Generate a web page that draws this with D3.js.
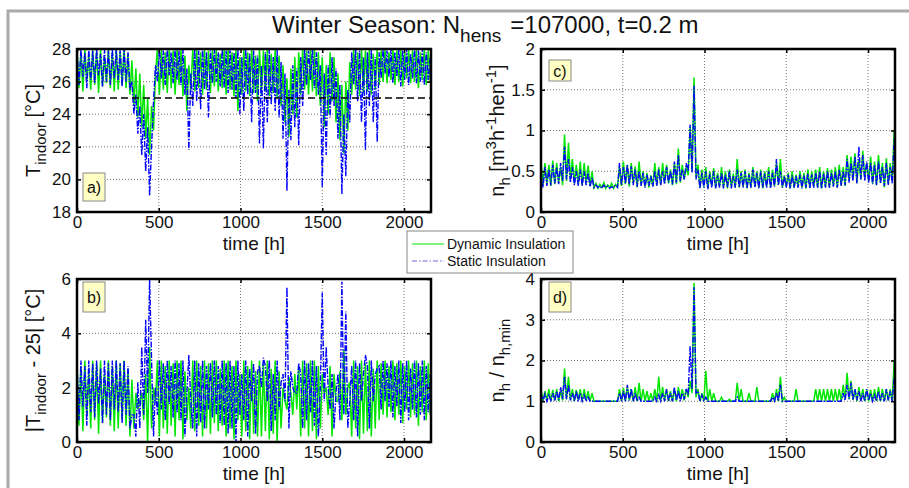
<!DOCTYPE html>
<html>
<head>
<meta charset="utf-8">
<script src="https://cdn.jsdelivr.net/npm/d3@7"></script>
<style>
  body { margin: 0; background: #fff; }
  svg { display: block; font-family: "Liberation Sans", Arial, sans-serif; }
</style>
</head>
<body>
<div id="chart"></div>
<script>
// Winter season, 12-hourly readings (day / night), hours 0..2160

const STEP_H = 12;
const SETPOINT = 25;

// Indoor temperature [°C]
const tinDynamic = [
  28,25.6,27.8,25.4,28,26,27.6,25.5,28,25.8,27.9,25.3,28,25.7,27.5,25.9,28,25.6,27.8,25.4,
  28,25.5,27.9,25.8,28,25.6,27.7,25.2,27.3,24.5,26.8,23.8,26.5,23.2,25.8,22.5,25,21.5,24.5,23,
  26.5,28,25.2,28,25.5,27.8,25.3,28,25.6,27.9,25.2,28,25.8,28,25.1,27.6,24.2,27,25.5,28,
  25.4,28,25.6,27.8,25.2,28,25.5,27.9,25.3,28,25.7,28,25.4,27.7,25.6,28,25.2,28,25.5,27.8,
  25.1,28,24.2,27.5,25.2,28,25.4,27.8,25.1,28,25.3,27.6,24.8,28,25.2,27.9,25.4,28,25.1,27.7,
  25.3,28,25,27.6,24.5,27,23.5,26.2,22.6,26.8,24,27.5,23.8,27.8,25.2,28,25.5,27.9,25.2,28,
  25.4,28,25.1,27.8,24.5,27.5,23.2,27,24,27.8,24.8,27.5,23.5,26.5,22.4,25.8,21.6,26,23,27.2,
  25.2,28,25.5,27.8,25.1,28,25.3,27.9,25.4,28,25.2,27.7,25.5,28,25.8,27.9,26,28,25.9,27.8,
  26.1,28,25.8,27.9,26,28,25.7,27.8,26.2,28,25.9,27.9,26,28,25.6,27.8,26.1,28,25.8,27.9,
  26
];
const tinStatic = [
  27.9,25.8,28,26.3,27.8,25.6,28,26.1,27.9,25.9,28,26.4,27.7,25.7,28,26,27.9,25.8,28,26.2,
  28,26.1,27.9,25.7,28,26,27.8,25.5,26,24,25.2,22.8,24.5,21.5,24,20.5,23.2,19,22,24.8,
  27,26,28,26.2,27.9,25.8,28,26.4,27.8,25.9,28,26.1,27.9,25.8,28,25.2,26.8,21.8,26.5,24.5,
  28,24.8,27.9,24.3,28,25.5,27.8,23.8,27.9,25.9,28,26,27.8,25.7,28,25.6,27.9,25.3,28,25.5,
  27.8,25,28,24,27.5,24.2,28,25.2,27.7,23.5,27.9,25.3,27.6,22.2,27,21.9,27.8,23.5,28,24.6,
  27.5,24.2,28,23.8,27.2,22.5,26.5,19.3,25.5,22.4,27,23.2,26.8,22.1,27.5,24.5,28,25.8,27.9,26.1,
  28,25.6,27.8,25.2,27,19.5,26.5,21.5,27,23.8,27.5,24.5,26.8,22.5,25.8,19.1,24,20.2,25.5,23.5,
  27.8,25.8,28,24.8,27.9,23.5,27.5,21.8,27.8,24.5,28,23.5,27.5,22.3,27.8,26.2,28,26.5,27.9,26.3,
  28,25.9,27.8,26.3,28,25.7,27.9,26.1,28,25.8,27.7,26.2,28,25.9,27.9,26,28,25.8,27.8,26.1,
  27.5
];

// Ventilation rate n_h [m3 h-1 hen-1]
const nhDynamic = [
  0.62,0.33,0.6,0.35,0.58,0.32,0.63,0.34,0.6,0.36,0.55,0.33,0.95,0.38,0.85,0.4,0.65,0.35,0.58,0.34,
  0.62,0.33,0.6,0.35,0.57,0.32,0.5,0.3,0.35,0.29,0.34,0.3,0.36,0.29,0.33,0.3,0.35,0.29,0.34,0.31,
  0.55,0.32,0.62,0.34,0.58,0.31,0.6,0.35,0.56,0.3,0.62,0.33,0.5,0.31,0.48,0.3,0.45,0.32,0.6,0.33,
  0.55,0.34,0.6,0.36,0.58,0.35,0.52,0.33,0.6,0.34,0.78,0.36,0.58,0.4,0.55,0.45,1.05,0.5,1.65,0.42,
  0.58,0.3,0.52,0.31,0.55,0.29,0.5,0.32,0.54,0.3,0.48,0.31,0.55,0.3,0.5,0.29,0.52,0.31,0.47,0.3,
  0.65,0.3,0.5,0.31,0.52,0.29,0.48,0.3,0.55,0.31,0.5,0.3,0.52,0.29,0.5,0.31,0.55,0.3,0.52,0.32,
  0.6,0.33,0.65,0.3,0.45,0.31,0.48,0.29,0.5,0.3,0.46,0.31,0.5,0.3,0.48,0.29,0.52,0.3,0.5,0.31,
  0.52,0.3,0.55,0.29,0.5,0.31,0.54,0.3,0.52,0.32,0.55,0.3,0.58,0.33,0.55,0.32,0.7,0.38,0.68,0.4,
  0.72,0.36,0.65,0.4,0.75,0.42,0.6,0.38,0.68,0.35,0.62,0.33,0.7,0.36,0.6,0.3,0.66,0.34,0.6,0.38,
  1.0
];
const nhStatic = [
  0.5,0.3,0.55,0.32,0.52,0.33,0.58,0.35,0.55,0.34,0.6,0.38,0.8,0.4,0.65,0.36,0.55,0.33,0.5,0.32,
  0.52,0.32,0.5,0.33,0.48,0.31,0.42,0.3,0.33,0.3,0.32,0.29,0.33,0.3,0.32,0.29,0.31,0.3,0.33,0.3,
  0.6,0.33,0.55,0.35,0.58,0.34,0.56,0.33,0.52,0.31,0.5,0.32,0.48,0.3,0.46,0.32,0.44,0.31,0.5,0.32,
  0.52,0.33,0.5,0.34,0.55,0.36,0.5,0.34,0.62,0.36,0.7,0.38,0.52,0.4,0.6,0.5,1.07,0.48,1.55,0.4,
  0.52,0.29,0.48,0.3,0.5,0.28,0.47,0.3,0.5,0.29,0.45,0.3,0.48,0.29,0.46,0.3,0.5,0.29,0.44,0.3,
  0.52,0.3,0.48,0.3,0.5,0.29,0.46,0.3,0.52,0.3,0.48,0.29,0.5,0.3,0.47,0.3,0.5,0.29,0.48,0.31,
  0.65,0.33,0.5,0.3,0.44,0.3,0.46,0.29,0.45,0.3,0.44,0.3,0.46,0.29,0.45,0.3,0.47,0.29,0.46,0.3,
  0.48,0.3,0.5,0.29,0.47,0.3,0.5,0.3,0.48,0.31,0.5,0.3,0.52,0.32,0.5,0.33,0.65,0.36,0.6,0.38,
  0.68,0.35,0.8,0.4,0.7,0.38,0.62,0.36,0.6,0.34,0.58,0.33,0.62,0.35,0.55,0.32,0.6,0.33,0.55,0.35,
  0.9
];

// Ratio n_h / n_h,min
const ratioDynamic = [
  1.3,1,1.25,1.02,1.3,1,1.28,1.03,1.3,1,1.25,1.02,1.8,1.05,1.6,1.03,1.3,1,1.28,1.02,
  1.3,1,1.3,1.02,1.25,1,1.2,1,1,1,1,1,1,1,1,1,1,1,1,1,
  1.3,1,1.32,1,1.35,1.02,1.3,1,1.35,1,1.45,1,1.3,1,1.25,1,1.2,1,1.3,1,
  1.6,1,1.35,1.02,1.3,1,1.25,1,1.3,1,1.35,1.05,1.3,1.02,1.3,1.1,1.5,1.2,3.9,1.1,
  1.3,1,1.2,1,1.75,1,1.3,1,1.2,1,1,1,1.1,1,1,1,1.05,1,1,1,
  1.45,1,1.3,1,1,1,1.2,1,1,1,1.35,1,1,1,1,1,1,1,1.2,1,
  1.3,1,1.6,1,1.1,1,1,1,1,1,1.3,1,1,1,1,1,1,1,1,1,
  1.3,1,1.3,1,1.3,1,1.3,1,1.3,1,1.3,1,1.3,1,1.4,1.05,1.7,1.05,1.5,1.03,
  1.3,1,1.35,1.02,1.3,1,1.3,1,1.28,1,1.3,1,1.35,1,1.3,1,1.3,1.02,1.3,1,
  2.0
];
const ratioStatic = [
  1.2,1,1.18,1,1.15,1.02,1.2,1,1.25,1.03,1.35,1.05,1.6,1.05,1.4,1.02,1.2,1,1.25,1,
  1.2,1,1.15,1,1.1,1,1,1,1,1,1,1,1,1,1,1,1,1,1,1,
  1.2,1,1.25,1,1.4,1.02,1.3,1,1.2,1,1.1,1,1,1,1,1,1,1,1.1,1,
  1.15,1,1.2,1,1.3,1,1.2,1,1.35,1.02,1.25,1,1.2,1.05,1.3,1.15,2.35,1.3,3.8,1.2,
  1.25,1,1.15,1,1.1,1,1,1,1,1,1,1,1,1,1,1,1,1,1,1,
  1.1,1,1,1,1,1,1,1,1,1,1,1,1,1,1,1,1,1,1.1,1,
  1.2,1,1.4,1,1,1,1,1,1,1,1,1,1,1,1,1,1,1,1,1,
  1,1,1,1,1,1,1,1,1,1,1,1,1,1,1.2,1.02,1.4,1.05,1.45,1.03,
  1.3,1.02,1.25,1,1.2,1,1.3,1.02,1.2,1,1.15,1,1.25,1,1.2,1,1.3,1.02,1.25,1,
  1.6
];

const xTicks = [0, 500, 1000, 1500, 2000];
const legendLabels = ["Dynamic Insulation", "Static Insulation"];

const COLORS = { dynamic: "#00e600", static: "#0000ff" };

// |T_indoor - 25|
const devDynamic = tinDynamic.map(v => Math.abs(v - SETPOINT));
const devStatic = tinStatic.map(v => Math.abs(v - SETPOINT));

const width = 909, height = 488;
const svg = d3.select("#chart").append("svg")
  .attr("width", width)
  .attr("height", height);

// page frame
svg.append("path")
  .attr("d", `M8,${height} L8,11 L${width},11`)
  .attr("fill", "none")
  .attr("stroke", "#aaa")
  .attr("stroke-width", 3);

// title
const title = svg.append("text")
  .attr("x", 272).attr("y", 33)
  .attr("font-size", 24)
  .attr("fill", "#111");
title.append("tspan").text("Winter Season: N");
title.append("tspan").attr("font-size", 19).attr("dy", 9).text("hens");
title.append("tspan").attr("dy", -9).attr("dx", 9).text("=107000, t=0.2 m");

const panels = [
  { id: "a", left: 77, top: 49, dyn: tinDynamic, stat: tinStatic, yDomain: [18, 28], yTicks: [18, 20, 22, 24, 26, 28],
    box: { x: 83, y: 173, w: 22, h: 28 }, refLine: SETPOINT,
    ylabel: [{ t: "T" }, { t: "indoor", s: "sub" }, { t: " [°C]" }] },
  { id: "b", left: 77, top: 279, dyn: devDynamic, stat: devStatic, yDomain: [0, 6], yTicks: [0, 2, 4, 6],
    box: { x: 83, y: 282, w: 22, h: 30 },
    ylabel: [{ t: "|T" }, { t: "indoor", s: "sub" }, { t: " - 25| [°C]" }] },
  { id: "c", left: 541, top: 49, dyn: nhDynamic, stat: nhStatic, yDomain: [0, 2], yTicks: [0, 0.5, 1, 1.5, 2],
    box: { x: 549, y: 60, w: 22, h: 21 },
    ylabel: [{ t: "n" }, { t: "h", s: "sub" }, { t: " [m" }, { t: "3", s: "sup" }, { t: "h" }, { t: "-1", s: "sup" }, { t: "hen" }, { t: "-1", s: "sup" }, { t: "]" }] },
  { id: "d", left: 541, top: 279, dyn: ratioDynamic, stat: ratioStatic, yDomain: [0, 4], yTicks: [0, 1, 2, 3, 4],
    box: { x: 549, y: 282, w: 22, h: 30 },
    ylabel: [{ t: "n" }, { t: "h", s: "sub" }, { t: " / n" }, { t: "h,min", s: "sub" }] }
];

const PW = 354, PH = 163;

// rich text with sub/superscripts
function richText(text, parts, size, subSize) {
  let shift = 0;
  parts.forEach(p => {
    const target = p.s === "sub" ? 6 : p.s === "sup" ? -8 : 0;
    text.append("tspan")
      .attr("dy", target - shift)
      .attr("font-size", p.s ? subSize : size)
      .text(p.t);
    shift = target;
  });
}

panels.forEach(p => {
  const x = d3.scaleLinear().domain([0, 2165]).range([p.left, p.left + PW]);
  const y = d3.scaleLinear().domain(p.yDomain).range([p.top + PH, p.top]);
  const g = svg.append("g");

  g.append("clipPath").attr("id", `clip-${p.id}`)
    .append("rect")
    .attr("x", p.left).attr("y", p.top)
    .attr("width", PW).attr("height", PH);

  // grid
  g.selectAll(".gx").data(xTicks.slice(1)).join("line")
    .attr("x1", d => x(d)).attr("x2", d => x(d))
    .attr("y1", p.top).attr("y2", p.top + PH)
    .attr("stroke", "#777").attr("stroke-dasharray", "1,2");
  g.selectAll(".gy").data(p.yTicks.slice(1, -1)).join("line")
    .attr("x1", p.left).attr("x2", p.left + PW)
    .attr("y1", d => y(d)).attr("y2", d => y(d))
    .attr("stroke", "#777").attr("stroke-dasharray", "1,2");

  const line = d3.line()
    .x((d, i) => x(i * STEP_H))
    .y(d => y(d));

  const plot = g.append("g").attr("clip-path", `url(#clip-${p.id})`);
  plot.append("path")
    .attr("d", line(p.dyn))
    .attr("fill", "none")
    .attr("stroke", COLORS.dynamic)
    .attr("stroke-width", 1.5);
  plot.append("path")
    .attr("d", line(p.stat))
    .attr("fill", "none")
    .attr("stroke", COLORS.static)
    .attr("stroke-width", 1.4)
    .attr("stroke-dasharray", "6,1.5,1.5,1.5");

  if (p.refLine !== undefined) {
    plot.append("line")
      .attr("x1", p.left).attr("x2", p.left + PW)
      .attr("y1", y(p.refLine)).attr("y2", y(p.refLine))
      .attr("stroke", "#000")
      .attr("stroke-width", 1.5)
      .attr("stroke-dasharray", "7,4");
  }

  // axes, MATLAB style: ticks inward on all sides
  g.append("g")
    .attr("transform", `translate(0,${p.top + PH})`)
    .call(d3.axisBottom(x).tickValues(xTicks).tickSizeInner(-4).tickSizeOuter(0).tickPadding(4).tickFormat(d3.format("d")))
    .call(a => a.select(".domain").remove());
  g.append("g")
    .attr("transform", `translate(0,${p.top})`)
    .call(d3.axisTop(x).tickValues(xTicks).tickSizeInner(-4).tickSizeOuter(0).tickFormat(""))
    .call(a => a.select(".domain").remove());
  g.append("g")
    .attr("transform", `translate(${p.left},0)`)
    .call(d3.axisLeft(y).tickValues(p.yTicks).tickSizeInner(-4).tickSizeOuter(0).tickPadding(6).tickFormat(d3.format("~g")))
    .call(a => a.select(".domain").remove());
  g.append("g")
    .attr("transform", `translate(${p.left + PW},0)`)
    .call(d3.axisRight(y).tickValues(p.yTicks).tickSizeInner(-4).tickSizeOuter(0).tickFormat(""))
    .call(a => a.select(".domain").remove());

  g.selectAll(".tick line").attr("stroke", "#000").attr("stroke-width", 1.5);
  g.selectAll(".tick text")
    .attr("font-size", 17)
    .attr("font-family", "Liberation Sans, Arial, sans-serif")
    .attr("fill", "#111");

  g.append("rect")
    .attr("x", p.left).attr("y", p.top)
    .attr("width", PW).attr("height", PH)
    .attr("fill", "none")
    .attr("stroke", "#000")
    .attr("stroke-width", 2.5);

  // panel letter
  g.append("rect")
    .attr("x", p.box.x).attr("y", p.box.y)
    .attr("width", p.box.w).attr("height", p.box.h)
    .attr("fill", "#ffffc4")
    .attr("stroke", "#888");
  g.append("text")
    .attr("x", p.box.x + p.box.w / 2)
    .attr("y", p.box.y + p.box.h / 2 + 6)
    .attr("text-anchor", "middle")
    .attr("font-size", 16)
    .attr("fill", "#111")
    .text(p.id + ")");

  // x label
  g.append("text")
    .attr("x", p.left + PW / 2)
    .attr("y", p.top + PH + 38)
    .attr("text-anchor", "middle")
    .attr("font-size", 19)
    .attr("fill", "#111")
    .text("time [h]");

  // y label
  const yl = g.append("text")
    .attr("transform", `translate(${p.left - 37},${p.top + PH / 2}) rotate(-90)`)
    .attr("text-anchor", "middle")
    .attr("fill", "#111");
  richText(yl, p.ylabel, 20, 15);
});

// legend
const legend = svg.append("g").attr("transform", "translate(407,231)");
legend.append("rect")
  .attr("width", 166).attr("height", 42)
  .attr("fill", "#fff")
  .attr("stroke", "#888");
legendLabels.forEach((label, i) => {
  const ly = 13 + i * 17;
  legend.append("line")
    .attr("x1", 5).attr("x2", 37)
    .attr("y1", ly).attr("y2", ly)
    .attr("stroke", i === 0 ? COLORS.dynamic : "#6a6ad8")
    .attr("stroke-width", 1)
    .attr("stroke-dasharray", i === 0 ? null : "5,2,1.5,2");
  legend.append("text")
    .attr("x", 40).attr("y", ly + 5)
    .attr("font-size", 14)
    .attr("fill", "#111")
    .text(label);
});
</script>
</body>
</html>
